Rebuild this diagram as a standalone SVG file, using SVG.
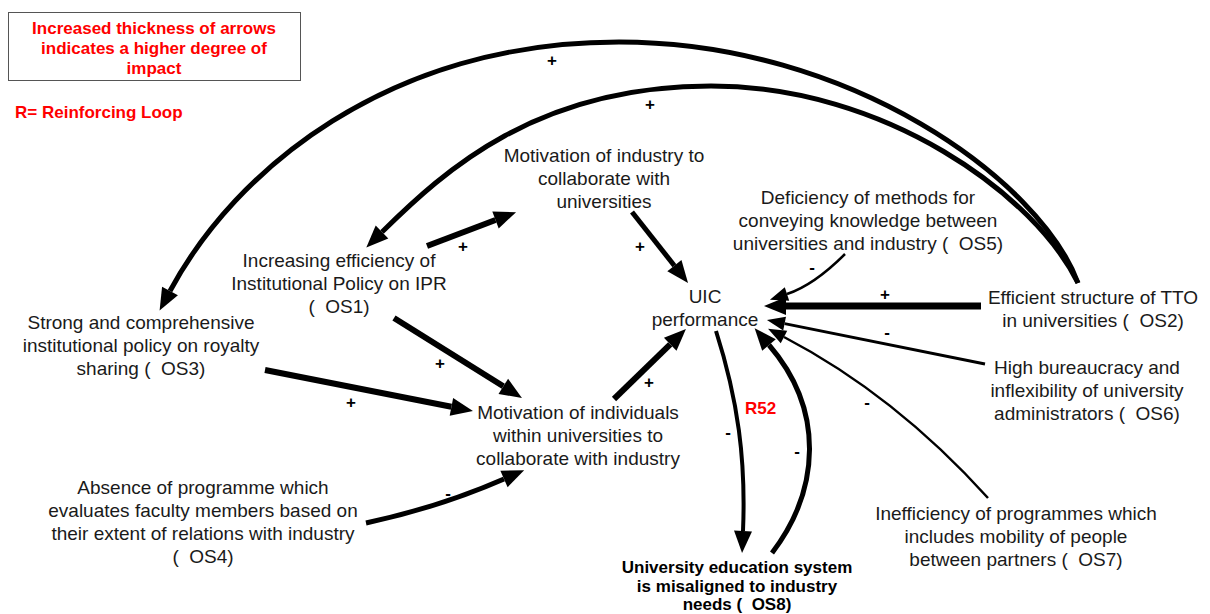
<svg xmlns="http://www.w3.org/2000/svg" width="1210" height="614" viewBox="0 0 1210 614">
  <style>
    .lbl { font-family: "Liberation Sans", Arial, sans-serif; font-size: 19px; fill: #1a1a1a; text-anchor: middle; }
    .bold { font-family: "Liberation Sans", Arial, sans-serif; font-size: 17px; font-weight: bold; fill: #000; text-anchor: middle; }
    .red { font-family: "Liberation Sans", Arial, sans-serif; font-size: 17px; font-weight: bold; fill: #ff0000; }
    .pol { font-family: "Liberation Sans", Arial, sans-serif; font-size: 17px; font-weight: bold; fill: #000; text-anchor: middle; }
    .link { fill: none; stroke: #000; stroke-linecap: butt; }
    .w7 { stroke-width: 7; }
    .w6 { stroke-width: 6; }
    .w5 { stroke-width: 5; }
    .w4 { stroke-width: 4; }
    .w3 { stroke-width: 3; }
    .w2 { stroke-width: 2.5; }
    .big { marker-end: url(#head); }
    .small { marker-end: url(#headS); }
  </style>
  <defs>
    <marker id="head" markerUnits="userSpaceOnUse" markerWidth="24" markerHeight="20" refX="0" refY="10" orient="auto" overflow="visible">
      <path d="M0,1 L22,10 L0,19 Z" fill="#000"/>
    </marker>
    <marker id="headS" markerUnits="userSpaceOnUse" markerWidth="20" markerHeight="16" refX="0" refY="8" orient="auto" overflow="visible">
      <path d="M0,1 L18,8 L0,15 Z" fill="#000"/>
    </marker>
  </defs>

  <rect width="1210" height="614" fill="#fff"/>

  <!-- legend -->
  <g id="legend">
    <rect x="8.5" y="12.5" width="292" height="68" fill="#fff" stroke="#555" stroke-width="1"/>
    <text class="red" text-anchor="middle"><tspan x="154" y="34">Increased thickness of arrows</tspan><tspan x="154" y="54">indicates a higher degree of</tspan><tspan x="154" y="74">impact</tspan></text>
    <text class="red" x="15" y="118">R= Reinforcing Loop</text>
  </g>

  <!-- causal links -->
  <g id="connectors">
    <!-- OS2 to OS3 (outer arc) -->
    <path class="link w5 big" d="M1078,283 C1040,180 850,42 619,42 S235,170 170,291"/>
    <!-- OS2 to OS1 (inner arc) -->
    <path class="link w5 big" d="M1078,283 C1035,195 885,86 711,86 S445,170 382,232"/>
    <!-- OS1 to industry motivation -->
    <path class="link w6 big" d="M427,246 L495.5,220"/>
    <!-- industry motivation to UIC -->
    <path class="link w5 big" d="M632,212 L674.4,265.7"/>
    <!-- OS5 to UIC -->
    <path class="link w2 small" d="M845,254 Q814,285 787,294"/>
    <!-- OS2 to UIC -->
    <path class="link w7 big" d="M981,306 L786,306"/>
    <!-- OS6 to UIC -->
    <path class="link w3 small" d="M985,364 L784.6,323.6"/>
    <!-- OS7 to UIC -->
    <path class="link w2 small" d="M988,498 Q895,395 784,337"/>
    <!-- OS1 to individuals -->
    <path class="link w6 big" d="M394,318 L503.3,386.3"/>
    <!-- OS3 to individuals -->
    <path class="link w6 big" d="M265,370 L451.4,406.8"/>
    <!-- OS4 to individuals -->
    <path class="link w5 big" d="M366,523 Q440,507 504,479"/>
    <!-- individuals to UIC -->
    <path class="link w6 big" d="M614,399 L670.2,344.3"/>
    <!-- UIC to OS8 -->
    <path class="link w4 big" d="M716,331 C738,400 746,460 743,531"/>
    <!-- OS8 to UIC -->
    <path class="link w5 big" d="M772,553 C820,490 825,410 769,345"/>
  </g>

  <!-- polarity signs -->
  <g id="polarities">
    <text class="pol" x="552" y="66">+</text>
    <text class="pol" x="650" y="110">+</text>
    <text class="pol" x="463" y="252">+</text>
    <text class="pol" x="640" y="252">+</text>
    <text class="pol" x="812" y="273">-</text>
    <text class="pol" x="885" y="300">+</text>
    <text class="pol" x="887" y="338">-</text>
    <text class="pol" x="867" y="408">-</text>
    <text class="pol" x="440" y="369">+</text>
    <text class="pol" x="351" y="408">+</text>
    <text class="pol" x="448" y="499" font-weight="normal">-</text>
    <text class="pol" x="649" y="388">+</text>
    <text class="pol" x="728" y="438">-</text>
    <text class="pol" x="797" y="457">-</text>
    <text class="red" x="745" y="414" font-size="18">R52</text>
  </g>

  <!-- variables -->
  <g id="industry-motivation">
    <text class="lbl"><tspan x="604" y="162">Motivation of industry to</tspan><tspan x="604" y="185">collaborate with</tspan><tspan x="604" y="208">universities</tspan></text>
  </g>
  <g id="os1">
    <text class="lbl" xml:space="preserve"><tspan x="339" y="267">Increasing efficiency of</tspan><tspan x="339" y="290">Institutional Policy on IPR</tspan><tspan x="339" y="313">(  OS1)</tspan></text>
  </g>
  <g id="os3">
    <text class="lbl" xml:space="preserve"><tspan x="141" y="329">Strong and comprehensive</tspan><tspan x="141" y="352">institutional policy on royalty</tspan><tspan x="141" y="375">sharing (  OS3)</tspan></text>
  </g>
  <g id="individual-motivation">
    <text class="lbl"><tspan x="578" y="419">Motivation of individuals</tspan><tspan x="578" y="442">within universities to</tspan><tspan x="578" y="465">collaborate with industry</tspan></text>
  </g>
  <g id="os4">
    <text class="lbl" xml:space="preserve"><tspan x="203" y="494">Absence of programme which</tspan><tspan x="203" y="517">evaluates faculty members based on</tspan><tspan x="203" y="540">their extent of relations with industry</tspan><tspan x="203" y="563">(  OS4)</tspan></text>
  </g>
  <g id="uic">
    <text class="lbl"><tspan x="705" y="303">UIC</tspan><tspan x="705" y="326">performance</tspan></text>
  </g>
  <g id="os5">
    <text class="lbl" xml:space="preserve"><tspan x="868" y="204">Deficiency of methods for</tspan><tspan x="868" y="227">conveying knowledge between</tspan><tspan x="868" y="250">universities and industry (  OS5)</tspan></text>
  </g>
  <g id="os2">
    <text class="lbl" xml:space="preserve"><tspan x="1093" y="304">Efficient structure of TTO</tspan><tspan x="1093" y="327">in universities (  OS2)</tspan></text>
  </g>
  <g id="os6">
    <text class="lbl" xml:space="preserve"><tspan x="1087" y="374">High bureaucracy and</tspan><tspan x="1087" y="397">inflexibility of university</tspan><tspan x="1087" y="420">administrators (  OS6)</tspan></text>
  </g>
  <g id="os7">
    <text class="lbl" xml:space="preserve"><tspan x="1016" y="520">Inefficiency of programmes which</tspan><tspan x="1016" y="543">includes mobility of people</tspan><tspan x="1016" y="566">between partners (  OS7)</tspan></text>
  </g>
  <g id="os8">
    <text class="bold" xml:space="preserve"><tspan x="737" y="573">University education system</tspan><tspan x="737" y="592">is misaligned to industry</tspan><tspan x="737" y="610">needs (  OS8)</tspan></text>
  </g>
</svg>
